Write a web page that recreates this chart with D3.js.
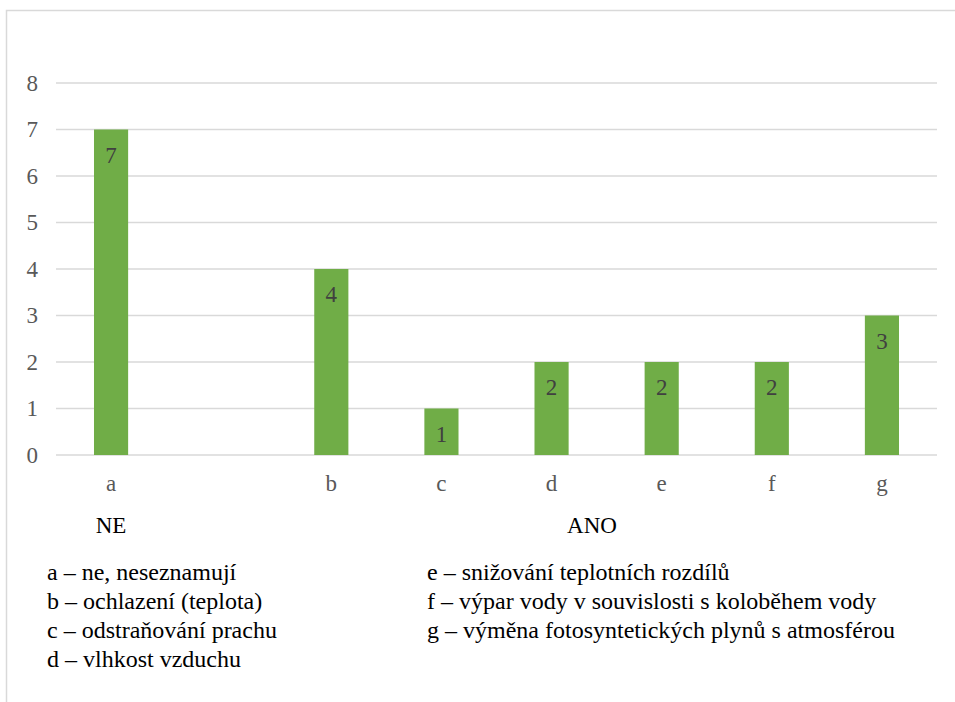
<!DOCTYPE html>
<html>
<head>
<meta charset="utf-8">
<script src="https://cdn.jsdelivr.net/npm/d3@7"></script>
<style>
  html, body { margin: 0; padding: 0; background: #fff; }
  svg text { font-family: "Times New Roman", Times, Tinos, "Liberation Serif", "Noto Serif", "DejaVu Serif", serif; }
</style>
</head>
<body>
<svg id="chart" width="955" height="702"></svg>
<script>
// Odpovědi: počet žáků podle kategorie (prázdný sloupec odděluje NE / ANO)
const categories = ["a", "", "b", "c", "d", "e", "f", "g"];
const counts = [7, null, 4, 1, 2, 2, 2, 3];
const yTicks = [0, 1, 2, 3, 4, 5, 6, 7, 8];
const groupLabels = ["NE", "ANO"];
const legendLeft = [
  "a – ne, neseznamují",
  "b – ochlazení (teplota)",
  "c – odstraňování prachu",
  "d – vlhkost vzduchu"
];
const legendRight = [
  "e – snižování teplotních rozdílů",
  "f – výpar vody v souvislosti s koloběhem vody",
  "g – výměna fotosyntetických plynů s atmosférou"
];

const SERIF = "'Times New Roman', Times, Tinos, 'Liberation Serif', 'Noto Serif', 'DejaVu Serif', serif";
const svg = d3.select("#chart");

// chart frame
svg.append("rect")
  .attr("x", 6.5).attr("y", 10.5)
  .attr("width", 960).attr("height", 700)
  .attr("fill", "none").attr("stroke", "#d9d9d9").attr("stroke-width", 1.5);

const plot = { left: 56, right: 937, top: 83, bottom: 455 };

const x = d3.scaleBand()
  .domain(categories)
  .range([plot.left, plot.right])
  .paddingInner(0.69)
  .paddingOuter(0.345);

const y = d3.scaleLinear()
  .domain([0, 8])
  .range([plot.bottom, plot.top]);

// horizontal gridlines
svg.append("g")
  .selectAll("line")
  .data(yTicks)
  .join("line")
  .attr("x1", plot.left).attr("x2", plot.right)
  .attr("y1", d => y(d)).attr("y2", d => y(d))
  .attr("stroke", "#d9d9d9").attr("stroke-width", 1.5);

// y axis labels
const yAxis = svg.append("g")
  .attr("transform", `translate(${plot.left - 18},0)`)
  .call(d3.axisLeft(y).tickValues(yTicks).tickSize(0).tickPadding(0));
yAxis.attr("font-family", SERIF);
yAxis.select(".domain").remove();
yAxis.selectAll("text")
  .style("font-family", SERIF)
  .attr("font-size", 23)
  .attr("fill", "#595959");

// bars
const barData = categories.map((c, i) => ({ c, v: counts[i] })).filter(d => d.v != null);
svg.append("g")
  .selectAll("rect")
  .data(barData)
  .join("rect")
  .attr("x", d => x(d.c))
  .attr("width", x.bandwidth())
  .attr("y", d => y(d.v))
  .attr("height", d => y(0) - y(d.v))
  .attr("fill", "#70ad47");

// value labels inside bar tops
svg.append("g")
  .selectAll("text")
  .data(barData)
  .join("text")
  .attr("x", d => x(d.c) + x.bandwidth() / 2)
  .attr("y", d => y(d.v) + 33)
  .attr("text-anchor", "middle")
  .style("font-family", SERIF)
  .attr("font-size", 23)
  .attr("fill", "#404040")
  .text(d => d.v);

// category axis
const xAxis = svg.append("g")
  .attr("transform", `translate(0,${plot.bottom + 20})`)
  .call(d3.axisBottom(x).tickSize(0).tickPadding(0));
xAxis.attr("font-family", SERIF);
xAxis.select(".domain").remove();
xAxis.selectAll("text")
  .style("font-family", SERIF)
  .attr("font-size", 23)
  .attr("fill", "#595959");

// group labels
const groupX = [x("a") + x.bandwidth() / 2, 592];
svg.append("g")
  .selectAll("text")
  .data(groupLabels)
  .join("text")
  .attr("x", (d, i) => groupX[i])
  .attr("y", 533)
  .attr("text-anchor", "middle")
  .style("font-family", SERIF)
  .attr("font-size", 23)
  .attr("fill", "#000")
  .text(d => d);

// legend columns
function legendColumn(items, x0) {
  svg.append("g")
    .selectAll("text")
    .data(items)
    .join("text")
    .attr("x", x0)
    .attr("y", (d, i) => 580 + i * 29)
    .style("font-family", SERIF)
    .attr("font-size", 24)
    .attr("fill", "#000")
    .text(d => d);
}
legendColumn(legendLeft, 47);
legendColumn(legendRight, 427);
</script>
</body>
</html>
